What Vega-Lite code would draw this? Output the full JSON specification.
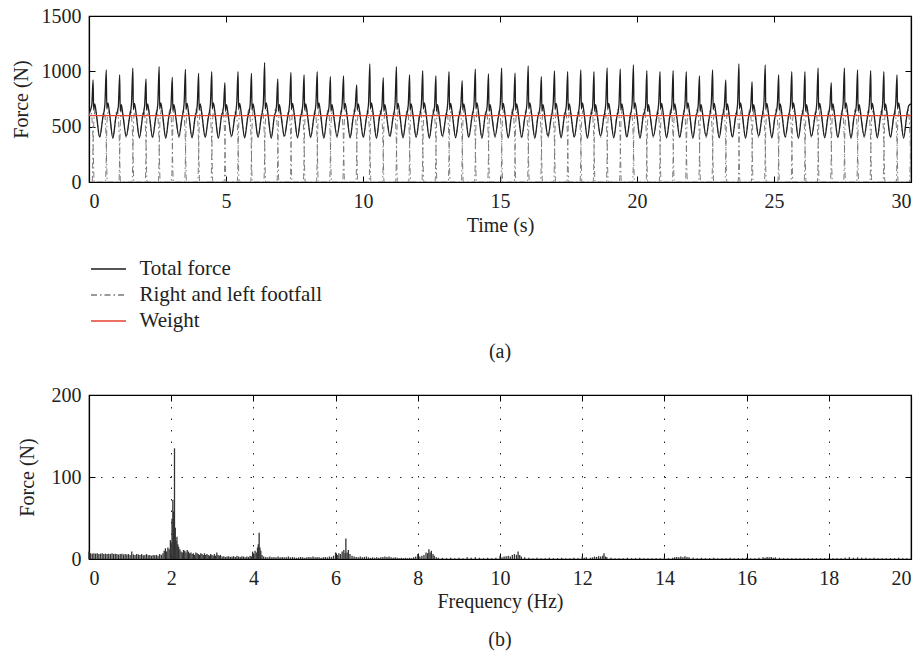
{
 "$schema": "https://vega.github.io/schema/vega-lite/v6.json",
 "background": "white",
 "padding": {"left": 10, "top": 5, "right": 8, "bottom": 0},
 "columns": 1,
 "align": "none",
 "spacing": 21,
 "config": {
  "font": "Liberation Serif",
  "view": {"stroke": "#000", "strokeWidth": 1.2},
  "axis": {"labelFont": "Liberation Serif", "titleFont": "Liberation Serif", "labelFontSize": 20, "titleFontSize": 20, "titleFontWeight": "normal", "labelColor": "#222", "titleColor": "#222", "domainColor": "#000", "domainWidth": 1.2, "tickColor": "#000", "tickWidth": 1, "tickSize": -6, "labelPadding": 15, "gridColor": "#000", "gridDash": [1.5, 10], "gridOpacity": 0.85, "gridWidth": 1, "format": "d"},
  "axisY": {"labelPadding": 14},
  "title": {"font": "Liberation Serif", "fontSize": 20, "fontWeight": "normal", "color": "#222"}
 },
 "datasets": {
  "total": [
   {"t":0,"F":620},
   {"t":0.1,"F":690},{"t":0.15,"F":922},{"t":0.17,"F":650},{"t":0.21,"F":705},{"t":0.28,"F":590},{"t":0.39,"F":405},{"t":0.5,"F":575},
   {"t":0.58,"F":700},{"t":0.63,"F":1012},{"t":0.65,"F":660},{"t":0.69,"F":715},{"t":0.76,"F":600},{"t":0.87,"F":395},{"t":0.98,"F":585},
   {"t":1.07,"F":680},{"t":1.12,"F":967},{"t":1.14,"F":640},{"t":1.18,"F":700},{"t":1.25,"F":580},{"t":1.36,"F":415},{"t":1.47,"F":570},
   {"t":1.55,"F":705},{"t":1.6,"F":1028},{"t":1.62,"F":655},{"t":1.66,"F":710},{"t":1.73,"F":595},{"t":1.84,"F":400},{"t":1.95,"F":580},
   {"t":2.03,"F":690},{"t":2.08,"F":931},{"t":2.1,"F":650},{"t":2.14,"F":705},{"t":2.21,"F":590},{"t":2.32,"F":405},{"t":2.43,"F":575},
   {"t":2.51,"F":700},{"t":2.56,"F":1042},{"t":2.58,"F":660},{"t":2.62,"F":715},{"t":2.69,"F":600},{"t":2.8,"F":395},{"t":2.91,"F":585},
   {"t":2.99,"F":680},{"t":3.04,"F":946},{"t":3.06,"F":640},{"t":3.1,"F":700},{"t":3.17,"F":580},{"t":3.28,"F":415},{"t":3.39,"F":570},
   {"t":3.47,"F":705},{"t":3.52,"F":1018},{"t":3.54,"F":655},{"t":3.58,"F":710},{"t":3.65,"F":595},{"t":3.76,"F":400},{"t":3.87,"F":580},
   {"t":3.95,"F":690},{"t":4,"F":982},{"t":4.02,"F":650},{"t":4.06,"F":705},{"t":4.13,"F":590},{"t":4.24,"F":405},{"t":4.35,"F":575},
   {"t":4.43,"F":700},{"t":4.48,"F":997},{"t":4.5,"F":660},{"t":4.54,"F":715},{"t":4.61,"F":600},{"t":4.72,"F":395},{"t":4.83,"F":585},
   {"t":4.91,"F":680},{"t":4.96,"F":898},{"t":4.98,"F":640},{"t":5.02,"F":700},{"t":5.09,"F":580},{"t":5.2,"F":415},{"t":5.31,"F":570},
   {"t":5.39,"F":705},{"t":5.44,"F":997},{"t":5.46,"F":655},{"t":5.5,"F":710},{"t":5.57,"F":595},{"t":5.68,"F":400},{"t":5.79,"F":580},
   {"t":5.88,"F":690},{"t":5.93,"F":982},{"t":5.95,"F":650},{"t":5.99,"F":705},{"t":6.06,"F":590},{"t":6.17,"F":405},{"t":6.28,"F":575},
   {"t":6.36,"F":700},{"t":6.41,"F":1079},{"t":6.43,"F":660},{"t":6.47,"F":715},{"t":6.54,"F":600},{"t":6.65,"F":395},{"t":6.76,"F":585},
   {"t":6.84,"F":680},{"t":6.89,"F":931},{"t":6.91,"F":640},{"t":6.95,"F":700},{"t":7.02,"F":580},{"t":7.13,"F":415},{"t":7.24,"F":570},
   {"t":7.32,"F":705},{"t":7.37,"F":990},{"t":7.39,"F":655},{"t":7.43,"F":710},{"t":7.5,"F":595},{"t":7.61,"F":400},{"t":7.72,"F":580},
   {"t":7.8,"F":690},{"t":7.85,"F":967},{"t":7.87,"F":650},{"t":7.91,"F":705},{"t":7.98,"F":590},{"t":8.09,"F":405},{"t":8.2,"F":575},
   {"t":8.28,"F":700},{"t":8.33,"F":997},{"t":8.35,"F":660},{"t":8.39,"F":715},{"t":8.46,"F":600},{"t":8.57,"F":395},{"t":8.68,"F":585},
   {"t":8.76,"F":680},{"t":8.81,"F":952},{"t":8.83,"F":640},{"t":8.87,"F":700},{"t":8.94,"F":580},{"t":9.05,"F":415},{"t":9.16,"F":570},
   {"t":9.24,"F":705},{"t":9.29,"F":958},{"t":9.31,"F":655},{"t":9.35,"F":710},{"t":9.42,"F":595},{"t":9.53,"F":400},{"t":9.64,"F":580},
   {"t":9.72,"F":690},{"t":9.77,"F":877},{"t":9.79,"F":650},{"t":9.83,"F":705},{"t":9.9,"F":590},{"t":10.01,"F":405},{"t":10.12,"F":575},
   {"t":10.2,"F":700},{"t":10.25,"F":1067},{"t":10.27,"F":660},{"t":10.31,"F":715},{"t":10.38,"F":600},{"t":10.49,"F":395},{"t":10.6,"F":585},
   {"t":10.69,"F":680},{"t":10.74,"F":943},{"t":10.76,"F":640},{"t":10.8,"F":700},{"t":10.87,"F":580},{"t":10.98,"F":415},{"t":11.09,"F":570},
   {"t":11.17,"F":705},{"t":11.22,"F":1042},{"t":11.24,"F":655},{"t":11.28,"F":710},{"t":11.35,"F":595},{"t":11.46,"F":400},{"t":11.57,"F":580},
   {"t":11.65,"F":690},{"t":11.7,"F":967},{"t":11.72,"F":650},{"t":11.76,"F":705},{"t":11.83,"F":590},{"t":11.94,"F":405},{"t":12.05,"F":575},
   {"t":12.13,"F":700},{"t":12.18,"F":1006},{"t":12.2,"F":660},{"t":12.24,"F":715},{"t":12.31,"F":600},{"t":12.42,"F":395},{"t":12.53,"F":585},
   {"t":12.61,"F":680},{"t":12.66,"F":958},{"t":12.68,"F":640},{"t":12.72,"F":700},{"t":12.79,"F":580},{"t":12.9,"F":415},{"t":13.01,"F":570},
   {"t":13.09,"F":705},{"t":13.14,"F":997},{"t":13.16,"F":655},{"t":13.2,"F":710},{"t":13.27,"F":595},{"t":13.38,"F":400},{"t":13.49,"F":580},
   {"t":13.57,"F":690},{"t":13.62,"F":916},{"t":13.64,"F":650},{"t":13.68,"F":705},{"t":13.75,"F":590},{"t":13.86,"F":405},{"t":13.97,"F":575},
   {"t":14.05,"F":700},{"t":14.1,"F":1019},{"t":14.12,"F":660},{"t":14.16,"F":715},{"t":14.23,"F":600},{"t":14.34,"F":395},{"t":14.45,"F":585},
   {"t":14.53,"F":680},{"t":14.58,"F":976},{"t":14.6,"F":640},{"t":14.64,"F":700},{"t":14.71,"F":580},{"t":14.82,"F":415},{"t":14.93,"F":570},
   {"t":15.01,"F":705},{"t":15.06,"F":1028},{"t":15.08,"F":655},{"t":15.12,"F":710},{"t":15.19,"F":595},{"t":15.3,"F":400},{"t":15.41,"F":580},
   {"t":15.5,"F":690},{"t":15.55,"F":983},{"t":15.57,"F":650},{"t":15.61,"F":705},{"t":15.68,"F":590},{"t":15.79,"F":405},{"t":15.9,"F":575},
   {"t":15.98,"F":700},{"t":16.03,"F":1049},{"t":16.05,"F":660},{"t":16.09,"F":715},{"t":16.16,"F":600},{"t":16.27,"F":395},{"t":16.38,"F":585},
   {"t":16.46,"F":680},{"t":16.51,"F":952},{"t":16.53,"F":640},{"t":16.57,"F":700},{"t":16.64,"F":580},{"t":16.75,"F":415},{"t":16.86,"F":570},
   {"t":16.94,"F":705},{"t":16.99,"F":1003},{"t":17.01,"F":655},{"t":17.05,"F":710},{"t":17.12,"F":595},{"t":17.23,"F":400},{"t":17.34,"F":580},
   {"t":17.42,"F":690},{"t":17.47,"F":997},{"t":17.49,"F":650},{"t":17.53,"F":705},{"t":17.6,"F":590},{"t":17.71,"F":405},{"t":17.82,"F":575},
   {"t":17.9,"F":700},{"t":17.95,"F":1012},{"t":17.97,"F":660},{"t":18.01,"F":715},{"t":18.08,"F":600},{"t":18.19,"F":395},{"t":18.3,"F":585},
   {"t":18.38,"F":680},{"t":18.43,"F":997},{"t":18.45,"F":640},{"t":18.49,"F":700},{"t":18.56,"F":580},{"t":18.67,"F":415},{"t":18.78,"F":570},
   {"t":18.86,"F":705},{"t":18.91,"F":1030},{"t":18.93,"F":655},{"t":18.97,"F":710},{"t":19.04,"F":595},{"t":19.15,"F":400},{"t":19.26,"F":580},
   {"t":19.34,"F":690},{"t":19.39,"F":1019},{"t":19.41,"F":650},{"t":19.45,"F":705},{"t":19.52,"F":590},{"t":19.63,"F":405},{"t":19.74,"F":575},
   {"t":19.82,"F":700},{"t":19.87,"F":1058},{"t":19.89,"F":660},{"t":19.93,"F":715},{"t":20,"F":600},{"t":20.11,"F":395},{"t":20.22,"F":585},
   {"t":20.31,"F":680},{"t":20.36,"F":1006},{"t":20.38,"F":640},{"t":20.42,"F":700},{"t":20.49,"F":580},{"t":20.6,"F":415},{"t":20.71,"F":570},
   {"t":20.79,"F":705},{"t":20.84,"F":997},{"t":20.86,"F":655},{"t":20.9,"F":710},{"t":20.97,"F":595},{"t":21.08,"F":400},{"t":21.19,"F":580},
   {"t":21.27,"F":690},{"t":21.32,"F":1006},{"t":21.34,"F":650},{"t":21.38,"F":705},{"t":21.45,"F":590},{"t":21.56,"F":405},{"t":21.67,"F":575},
   {"t":21.75,"F":700},{"t":21.8,"F":997},{"t":21.82,"F":660},{"t":21.86,"F":715},{"t":21.93,"F":600},{"t":22.04,"F":395},{"t":22.15,"F":585},
   {"t":22.23,"F":680},{"t":22.28,"F":958},{"t":22.3,"F":640},{"t":22.34,"F":700},{"t":22.41,"F":580},{"t":22.52,"F":415},{"t":22.63,"F":570},
   {"t":22.71,"F":705},{"t":22.76,"F":1012},{"t":22.78,"F":655},{"t":22.82,"F":710},{"t":22.89,"F":595},{"t":23,"F":400},{"t":23.11,"F":580},
   {"t":23.19,"F":690},{"t":23.24,"F":922},{"t":23.26,"F":650},{"t":23.3,"F":705},{"t":23.37,"F":590},{"t":23.48,"F":405},{"t":23.59,"F":575},
   {"t":23.67,"F":700},{"t":23.72,"F":1067},{"t":23.74,"F":660},{"t":23.78,"F":715},{"t":23.85,"F":600},{"t":23.96,"F":395},{"t":24.07,"F":585},
   {"t":24.15,"F":680},{"t":24.2,"F":907},{"t":24.22,"F":640},{"t":24.26,"F":700},{"t":24.33,"F":580},{"t":24.44,"F":415},{"t":24.55,"F":570},
   {"t":24.63,"F":705},{"t":24.68,"F":1058},{"t":24.7,"F":655},{"t":24.74,"F":710},{"t":24.81,"F":595},{"t":24.92,"F":400},{"t":25.03,"F":580},
   {"t":25.12,"F":690},{"t":25.17,"F":967},{"t":25.19,"F":650},{"t":25.23,"F":705},{"t":25.3,"F":590},{"t":25.41,"F":405},{"t":25.52,"F":575},
   {"t":25.6,"F":700},{"t":25.65,"F":997},{"t":25.67,"F":660},{"t":25.71,"F":715},{"t":25.78,"F":600},{"t":25.89,"F":395},{"t":26,"F":585},
   {"t":26.08,"F":680},{"t":26.13,"F":997},{"t":26.15,"F":640},{"t":26.19,"F":700},{"t":26.26,"F":580},{"t":26.37,"F":415},{"t":26.48,"F":570},
   {"t":26.56,"F":705},{"t":26.61,"F":1028},{"t":26.63,"F":655},{"t":26.67,"F":710},{"t":26.74,"F":595},{"t":26.85,"F":400},{"t":26.96,"F":580},
   {"t":27.04,"F":690},{"t":27.09,"F":898},{"t":27.11,"F":650},{"t":27.15,"F":705},{"t":27.22,"F":590},{"t":27.33,"F":405},{"t":27.44,"F":575},
   {"t":27.52,"F":700},{"t":27.57,"F":1028},{"t":27.59,"F":660},{"t":27.63,"F":715},{"t":27.7,"F":600},{"t":27.81,"F":395},{"t":27.92,"F":585},
   {"t":28,"F":680},{"t":28.05,"F":1012},{"t":28.07,"F":640},{"t":28.11,"F":700},{"t":28.18,"F":580},{"t":28.29,"F":415},{"t":28.4,"F":570},
   {"t":28.48,"F":705},{"t":28.53,"F":1006},{"t":28.55,"F":655},{"t":28.59,"F":710},{"t":28.66,"F":595},{"t":28.77,"F":400},{"t":28.88,"F":580},
   {"t":28.96,"F":690},{"t":29.01,"F":997},{"t":29.03,"F":650},{"t":29.07,"F":705},{"t":29.14,"F":590},{"t":29.25,"F":405},{"t":29.36,"F":575},
   {"t":29.44,"F":700},{"t":29.49,"F":967},{"t":29.51,"F":660},{"t":29.55,"F":715},{"t":29.62,"F":600},{"t":29.73,"F":395},{"t":29.84,"F":585},
   {"t":29.92,"F":690},{"t":30,"F":705}
  ],
  "foot": [
   {"f":"L","t":0,"F":600},{"f":"L","t":0.07,"F":650},{"f":"L","t":0.14,"F":420},{"f":"L","t":0.19,"F":0},
   {"f":"R","t":0.12,"F":0},{"f":"R","t":0.18,"F":560},{"f":"R","t":0.23,"F":660},{"f":"R","t":0.39,"F":400},{"f":"R","t":0.55,"F":650},{"f":"R","t":0.62,"F":420},{"f":"R","t":0.67,"F":0},
   {"f":"L","t":0.6,"F":0},{"f":"L","t":0.66,"F":550},{"f":"L","t":0.71,"F":650},{"f":"L","t":0.87,"F":410},{"f":"L","t":1.03,"F":660},{"f":"L","t":1.1,"F":430},{"f":"L","t":1.15,"F":0},
   {"f":"R","t":1.09,"F":0},{"f":"R","t":1.15,"F":560},{"f":"R","t":1.2,"F":660},{"f":"R","t":1.36,"F":400},{"f":"R","t":1.52,"F":650},{"f":"R","t":1.59,"F":420},{"f":"R","t":1.64,"F":0},
   {"f":"L","t":1.57,"F":0},{"f":"L","t":1.63,"F":550},{"f":"L","t":1.68,"F":650},{"f":"L","t":1.84,"F":410},{"f":"L","t":2,"F":660},{"f":"L","t":2.07,"F":430},{"f":"L","t":2.12,"F":0},
   {"f":"R","t":2.05,"F":0},{"f":"R","t":2.11,"F":560},{"f":"R","t":2.16,"F":660},{"f":"R","t":2.32,"F":400},{"f":"R","t":2.48,"F":650},{"f":"R","t":2.55,"F":420},{"f":"R","t":2.6,"F":0},
   {"f":"L","t":2.53,"F":0},{"f":"L","t":2.59,"F":550},{"f":"L","t":2.64,"F":650},{"f":"L","t":2.8,"F":410},{"f":"L","t":2.96,"F":660},{"f":"L","t":3.03,"F":430},{"f":"L","t":3.08,"F":0},
   {"f":"R","t":3.01,"F":0},{"f":"R","t":3.07,"F":560},{"f":"R","t":3.12,"F":660},{"f":"R","t":3.28,"F":400},{"f":"R","t":3.44,"F":650},{"f":"R","t":3.51,"F":420},{"f":"R","t":3.56,"F":0},
   {"f":"L","t":3.49,"F":0},{"f":"L","t":3.55,"F":550},{"f":"L","t":3.6,"F":650},{"f":"L","t":3.76,"F":410},{"f":"L","t":3.92,"F":660},{"f":"L","t":3.99,"F":430},{"f":"L","t":4.04,"F":0},
   {"f":"R","t":3.97,"F":0},{"f":"R","t":4.03,"F":560},{"f":"R","t":4.08,"F":660},{"f":"R","t":4.24,"F":400},{"f":"R","t":4.4,"F":650},{"f":"R","t":4.47,"F":420},{"f":"R","t":4.52,"F":0},
   {"f":"L","t":4.45,"F":0},{"f":"L","t":4.51,"F":550},{"f":"L","t":4.56,"F":650},{"f":"L","t":4.72,"F":410},{"f":"L","t":4.88,"F":660},{"f":"L","t":4.95,"F":430},{"f":"L","t":5,"F":0},
   {"f":"R","t":4.93,"F":0},{"f":"R","t":4.99,"F":560},{"f":"R","t":5.04,"F":660},{"f":"R","t":5.2,"F":400},{"f":"R","t":5.36,"F":650},{"f":"R","t":5.43,"F":420},{"f":"R","t":5.48,"F":0},
   {"f":"L","t":5.41,"F":0},{"f":"L","t":5.47,"F":550},{"f":"L","t":5.52,"F":650},{"f":"L","t":5.68,"F":410},{"f":"L","t":5.84,"F":660},{"f":"L","t":5.91,"F":430},{"f":"L","t":5.96,"F":0},
   {"f":"R","t":5.9,"F":0},{"f":"R","t":5.96,"F":560},{"f":"R","t":6.01,"F":660},{"f":"R","t":6.17,"F":400},{"f":"R","t":6.33,"F":650},{"f":"R","t":6.4,"F":420},{"f":"R","t":6.45,"F":0},
   {"f":"L","t":6.38,"F":0},{"f":"L","t":6.44,"F":550},{"f":"L","t":6.49,"F":650},{"f":"L","t":6.65,"F":410},{"f":"L","t":6.81,"F":660},{"f":"L","t":6.88,"F":430},{"f":"L","t":6.93,"F":0},
   {"f":"R","t":6.86,"F":0},{"f":"R","t":6.92,"F":560},{"f":"R","t":6.97,"F":660},{"f":"R","t":7.13,"F":400},{"f":"R","t":7.29,"F":650},{"f":"R","t":7.36,"F":420},{"f":"R","t":7.41,"F":0},
   {"f":"L","t":7.34,"F":0},{"f":"L","t":7.4,"F":550},{"f":"L","t":7.45,"F":650},{"f":"L","t":7.61,"F":410},{"f":"L","t":7.77,"F":660},{"f":"L","t":7.84,"F":430},{"f":"L","t":7.89,"F":0},
   {"f":"R","t":7.82,"F":0},{"f":"R","t":7.88,"F":560},{"f":"R","t":7.93,"F":660},{"f":"R","t":8.09,"F":400},{"f":"R","t":8.25,"F":650},{"f":"R","t":8.32,"F":420},{"f":"R","t":8.37,"F":0},
   {"f":"L","t":8.3,"F":0},{"f":"L","t":8.36,"F":550},{"f":"L","t":8.41,"F":650},{"f":"L","t":8.57,"F":410},{"f":"L","t":8.73,"F":660},{"f":"L","t":8.8,"F":430},{"f":"L","t":8.85,"F":0},
   {"f":"R","t":8.78,"F":0},{"f":"R","t":8.84,"F":560},{"f":"R","t":8.89,"F":660},{"f":"R","t":9.05,"F":400},{"f":"R","t":9.21,"F":650},{"f":"R","t":9.28,"F":420},{"f":"R","t":9.33,"F":0},
   {"f":"L","t":9.26,"F":0},{"f":"L","t":9.32,"F":550},{"f":"L","t":9.37,"F":650},{"f":"L","t":9.53,"F":410},{"f":"L","t":9.69,"F":660},{"f":"L","t":9.76,"F":430},{"f":"L","t":9.81,"F":0},
   {"f":"R","t":9.74,"F":0},{"f":"R","t":9.8,"F":560},{"f":"R","t":9.85,"F":660},{"f":"R","t":10.01,"F":400},{"f":"R","t":10.17,"F":650},{"f":"R","t":10.24,"F":420},{"f":"R","t":10.29,"F":0},
   {"f":"L","t":10.22,"F":0},{"f":"L","t":10.28,"F":550},{"f":"L","t":10.33,"F":650},{"f":"L","t":10.49,"F":410},{"f":"L","t":10.65,"F":660},{"f":"L","t":10.72,"F":430},{"f":"L","t":10.77,"F":0},
   {"f":"R","t":10.71,"F":0},{"f":"R","t":10.77,"F":560},{"f":"R","t":10.82,"F":660},{"f":"R","t":10.98,"F":400},{"f":"R","t":11.14,"F":650},{"f":"R","t":11.21,"F":420},{"f":"R","t":11.26,"F":0},
   {"f":"L","t":11.19,"F":0},{"f":"L","t":11.25,"F":550},{"f":"L","t":11.3,"F":650},{"f":"L","t":11.46,"F":410},{"f":"L","t":11.62,"F":660},{"f":"L","t":11.69,"F":430},{"f":"L","t":11.74,"F":0},
   {"f":"R","t":11.67,"F":0},{"f":"R","t":11.73,"F":560},{"f":"R","t":11.78,"F":660},{"f":"R","t":11.94,"F":400},{"f":"R","t":12.1,"F":650},{"f":"R","t":12.17,"F":420},{"f":"R","t":12.22,"F":0},
   {"f":"L","t":12.15,"F":0},{"f":"L","t":12.21,"F":550},{"f":"L","t":12.26,"F":650},{"f":"L","t":12.42,"F":410},{"f":"L","t":12.58,"F":660},{"f":"L","t":12.65,"F":430},{"f":"L","t":12.7,"F":0},
   {"f":"R","t":12.63,"F":0},{"f":"R","t":12.69,"F":560},{"f":"R","t":12.74,"F":660},{"f":"R","t":12.9,"F":400},{"f":"R","t":13.06,"F":650},{"f":"R","t":13.13,"F":420},{"f":"R","t":13.18,"F":0},
   {"f":"L","t":13.11,"F":0},{"f":"L","t":13.17,"F":550},{"f":"L","t":13.22,"F":650},{"f":"L","t":13.38,"F":410},{"f":"L","t":13.54,"F":660},{"f":"L","t":13.61,"F":430},{"f":"L","t":13.66,"F":0},
   {"f":"R","t":13.59,"F":0},{"f":"R","t":13.65,"F":560},{"f":"R","t":13.7,"F":660},{"f":"R","t":13.86,"F":400},{"f":"R","t":14.02,"F":650},{"f":"R","t":14.09,"F":420},{"f":"R","t":14.14,"F":0},
   {"f":"L","t":14.07,"F":0},{"f":"L","t":14.13,"F":550},{"f":"L","t":14.18,"F":650},{"f":"L","t":14.34,"F":410},{"f":"L","t":14.5,"F":660},{"f":"L","t":14.57,"F":430},{"f":"L","t":14.62,"F":0},
   {"f":"R","t":14.55,"F":0},{"f":"R","t":14.61,"F":560},{"f":"R","t":14.66,"F":660},{"f":"R","t":14.82,"F":400},{"f":"R","t":14.98,"F":650},{"f":"R","t":15.05,"F":420},{"f":"R","t":15.1,"F":0},
   {"f":"L","t":15.03,"F":0},{"f":"L","t":15.09,"F":550},{"f":"L","t":15.14,"F":650},{"f":"L","t":15.3,"F":410},{"f":"L","t":15.46,"F":660},{"f":"L","t":15.53,"F":430},{"f":"L","t":15.58,"F":0},
   {"f":"R","t":15.52,"F":0},{"f":"R","t":15.58,"F":560},{"f":"R","t":15.63,"F":660},{"f":"R","t":15.79,"F":400},{"f":"R","t":15.95,"F":650},{"f":"R","t":16.02,"F":420},{"f":"R","t":16.07,"F":0},
   {"f":"L","t":16,"F":0},{"f":"L","t":16.06,"F":550},{"f":"L","t":16.11,"F":650},{"f":"L","t":16.27,"F":410},{"f":"L","t":16.43,"F":660},{"f":"L","t":16.5,"F":430},{"f":"L","t":16.55,"F":0},
   {"f":"R","t":16.48,"F":0},{"f":"R","t":16.54,"F":560},{"f":"R","t":16.59,"F":660},{"f":"R","t":16.75,"F":400},{"f":"R","t":16.91,"F":650},{"f":"R","t":16.98,"F":420},{"f":"R","t":17.03,"F":0},
   {"f":"L","t":16.96,"F":0},{"f":"L","t":17.02,"F":550},{"f":"L","t":17.07,"F":650},{"f":"L","t":17.23,"F":410},{"f":"L","t":17.39,"F":660},{"f":"L","t":17.46,"F":430},{"f":"L","t":17.51,"F":0},
   {"f":"R","t":17.44,"F":0},{"f":"R","t":17.5,"F":560},{"f":"R","t":17.55,"F":660},{"f":"R","t":17.71,"F":400},{"f":"R","t":17.87,"F":650},{"f":"R","t":17.94,"F":420},{"f":"R","t":17.99,"F":0},
   {"f":"L","t":17.92,"F":0},{"f":"L","t":17.98,"F":550},{"f":"L","t":18.03,"F":650},{"f":"L","t":18.19,"F":410},{"f":"L","t":18.35,"F":660},{"f":"L","t":18.42,"F":430},{"f":"L","t":18.47,"F":0},
   {"f":"R","t":18.4,"F":0},{"f":"R","t":18.46,"F":560},{"f":"R","t":18.51,"F":660},{"f":"R","t":18.67,"F":400},{"f":"R","t":18.83,"F":650},{"f":"R","t":18.9,"F":420},{"f":"R","t":18.95,"F":0},
   {"f":"L","t":18.88,"F":0},{"f":"L","t":18.94,"F":550},{"f":"L","t":18.99,"F":650},{"f":"L","t":19.15,"F":410},{"f":"L","t":19.31,"F":660},{"f":"L","t":19.38,"F":430},{"f":"L","t":19.43,"F":0},
   {"f":"R","t":19.36,"F":0},{"f":"R","t":19.42,"F":560},{"f":"R","t":19.47,"F":660},{"f":"R","t":19.63,"F":400},{"f":"R","t":19.79,"F":650},{"f":"R","t":19.86,"F":420},{"f":"R","t":19.91,"F":0},
   {"f":"L","t":19.84,"F":0},{"f":"L","t":19.9,"F":550},{"f":"L","t":19.95,"F":650},{"f":"L","t":20.11,"F":410},{"f":"L","t":20.27,"F":660},{"f":"L","t":20.34,"F":430},{"f":"L","t":20.39,"F":0},
   {"f":"R","t":20.33,"F":0},{"f":"R","t":20.39,"F":560},{"f":"R","t":20.44,"F":660},{"f":"R","t":20.6,"F":400},{"f":"R","t":20.76,"F":650},{"f":"R","t":20.83,"F":420},{"f":"R","t":20.88,"F":0},
   {"f":"L","t":20.81,"F":0},{"f":"L","t":20.87,"F":550},{"f":"L","t":20.92,"F":650},{"f":"L","t":21.08,"F":410},{"f":"L","t":21.24,"F":660},{"f":"L","t":21.31,"F":430},{"f":"L","t":21.36,"F":0},
   {"f":"R","t":21.29,"F":0},{"f":"R","t":21.35,"F":560},{"f":"R","t":21.4,"F":660},{"f":"R","t":21.56,"F":400},{"f":"R","t":21.72,"F":650},{"f":"R","t":21.79,"F":420},{"f":"R","t":21.84,"F":0},
   {"f":"L","t":21.77,"F":0},{"f":"L","t":21.83,"F":550},{"f":"L","t":21.88,"F":650},{"f":"L","t":22.04,"F":410},{"f":"L","t":22.2,"F":660},{"f":"L","t":22.27,"F":430},{"f":"L","t":22.32,"F":0},
   {"f":"R","t":22.25,"F":0},{"f":"R","t":22.31,"F":560},{"f":"R","t":22.36,"F":660},{"f":"R","t":22.52,"F":400},{"f":"R","t":22.68,"F":650},{"f":"R","t":22.75,"F":420},{"f":"R","t":22.8,"F":0},
   {"f":"L","t":22.73,"F":0},{"f":"L","t":22.79,"F":550},{"f":"L","t":22.84,"F":650},{"f":"L","t":23,"F":410},{"f":"L","t":23.16,"F":660},{"f":"L","t":23.23,"F":430},{"f":"L","t":23.28,"F":0},
   {"f":"R","t":23.21,"F":0},{"f":"R","t":23.27,"F":560},{"f":"R","t":23.32,"F":660},{"f":"R","t":23.48,"F":400},{"f":"R","t":23.64,"F":650},{"f":"R","t":23.71,"F":420},{"f":"R","t":23.76,"F":0},
   {"f":"L","t":23.69,"F":0},{"f":"L","t":23.75,"F":550},{"f":"L","t":23.8,"F":650},{"f":"L","t":23.96,"F":410},{"f":"L","t":24.12,"F":660},{"f":"L","t":24.19,"F":430},{"f":"L","t":24.24,"F":0},
   {"f":"R","t":24.17,"F":0},{"f":"R","t":24.23,"F":560},{"f":"R","t":24.28,"F":660},{"f":"R","t":24.44,"F":400},{"f":"R","t":24.6,"F":650},{"f":"R","t":24.67,"F":420},{"f":"R","t":24.72,"F":0},
   {"f":"L","t":24.65,"F":0},{"f":"L","t":24.71,"F":550},{"f":"L","t":24.76,"F":650},{"f":"L","t":24.92,"F":410},{"f":"L","t":25.08,"F":660},{"f":"L","t":25.15,"F":430},{"f":"L","t":25.2,"F":0},
   {"f":"R","t":25.14,"F":0},{"f":"R","t":25.2,"F":560},{"f":"R","t":25.25,"F":660},{"f":"R","t":25.41,"F":400},{"f":"R","t":25.57,"F":650},{"f":"R","t":25.64,"F":420},{"f":"R","t":25.69,"F":0},
   {"f":"L","t":25.62,"F":0},{"f":"L","t":25.68,"F":550},{"f":"L","t":25.73,"F":650},{"f":"L","t":25.89,"F":410},{"f":"L","t":26.05,"F":660},{"f":"L","t":26.12,"F":430},{"f":"L","t":26.17,"F":0},
   {"f":"R","t":26.1,"F":0},{"f":"R","t":26.16,"F":560},{"f":"R","t":26.21,"F":660},{"f":"R","t":26.37,"F":400},{"f":"R","t":26.53,"F":650},{"f":"R","t":26.6,"F":420},{"f":"R","t":26.65,"F":0},
   {"f":"L","t":26.58,"F":0},{"f":"L","t":26.64,"F":550},{"f":"L","t":26.69,"F":650},{"f":"L","t":26.85,"F":410},{"f":"L","t":27.01,"F":660},{"f":"L","t":27.08,"F":430},{"f":"L","t":27.13,"F":0},
   {"f":"R","t":27.06,"F":0},{"f":"R","t":27.12,"F":560},{"f":"R","t":27.17,"F":660},{"f":"R","t":27.33,"F":400},{"f":"R","t":27.49,"F":650},{"f":"R","t":27.56,"F":420},{"f":"R","t":27.61,"F":0},
   {"f":"L","t":27.54,"F":0},{"f":"L","t":27.6,"F":550},{"f":"L","t":27.65,"F":650},{"f":"L","t":27.81,"F":410},{"f":"L","t":27.97,"F":660},{"f":"L","t":28.04,"F":430},{"f":"L","t":28.09,"F":0},
   {"f":"R","t":28.02,"F":0},{"f":"R","t":28.08,"F":560},{"f":"R","t":28.13,"F":660},{"f":"R","t":28.29,"F":400},{"f":"R","t":28.45,"F":650},{"f":"R","t":28.52,"F":420},{"f":"R","t":28.57,"F":0},
   {"f":"L","t":28.5,"F":0},{"f":"L","t":28.56,"F":550},{"f":"L","t":28.61,"F":650},{"f":"L","t":28.77,"F":410},{"f":"L","t":28.93,"F":660},{"f":"L","t":29,"F":430},{"f":"L","t":29.05,"F":0},
   {"f":"R","t":28.98,"F":0},{"f":"R","t":29.04,"F":560},{"f":"R","t":29.09,"F":660},{"f":"R","t":29.25,"F":400},{"f":"R","t":29.41,"F":650},{"f":"R","t":29.48,"F":420},{"f":"R","t":29.53,"F":0},
   {"f":"L","t":29.46,"F":0},{"f":"L","t":29.52,"F":550},{"f":"L","t":29.57,"F":650},{"f":"L","t":29.73,"F":410},{"f":"L","t":29.89,"F":660},{"f":"L","t":29.96,"F":430},{"f":"L","t":30.01,"F":0},
   {"f":"R","t":29.94,"F":0},{"f":"R","t":30,"F":560}
  ],
  "spec": [
   {"hz":0,"A":9},{"hz":0.04,"A":7},{"hz":0.08,"A":6.5},{"hz":0.12,"A":7},{"hz":0.16,"A":6.5},{"hz":0.2,"A":7},{"hz":0.24,"A":6},{"hz":0.28,"A":6.5},{"hz":0.32,"A":7},{"hz":0.36,"A":6},
   {"hz":0.4,"A":6.5},{"hz":0.44,"A":6},{"hz":0.48,"A":6.5},{"hz":0.52,"A":6},{"hz":0.56,"A":7},{"hz":0.6,"A":6},{"hz":0.64,"A":6.5},{"hz":0.68,"A":6},{"hz":0.72,"A":5.5},{"hz":0.76,"A":6},
   {"hz":0.8,"A":6.5},{"hz":0.84,"A":5.5},{"hz":0.88,"A":6},{"hz":0.92,"A":5.5},{"hz":0.96,"A":6},{"hz":1,"A":5},{"hz":1.04,"A":9},{"hz":1.08,"A":5.5},{"hz":1.12,"A":5},{"hz":1.16,"A":6},
   {"hz":1.2,"A":5.5},{"hz":1.24,"A":5},{"hz":1.28,"A":6},{"hz":1.32,"A":4.5},{"hz":1.36,"A":5},{"hz":1.4,"A":6},{"hz":1.44,"A":4.5},{"hz":1.48,"A":5},{"hz":1.52,"A":4},{"hz":1.56,"A":5},
   {"hz":1.6,"A":4.5},{"hz":1.64,"A":5},{"hz":1.68,"A":4},{"hz":1.72,"A":6},{"hz":1.76,"A":5},{"hz":1.8,"A":7},{"hz":1.83,"A":10},{"hz":1.86,"A":13},{"hz":1.89,"A":9},{"hz":1.92,"A":14},
   {"hz":1.95,"A":12},{"hz":1.98,"A":23},{"hz":2,"A":20},{"hz":2.02,"A":49},{"hz":2.04,"A":72},{"hz":2.06,"A":58},{"hz":2.08,"A":135},{"hz":2.1,"A":38},{"hz":2.12,"A":22},{"hz":2.14,"A":27},
   {"hz":2.16,"A":18},{"hz":2.18,"A":15},{"hz":2.21,"A":12},{"hz":2.24,"A":9},{"hz":2.27,"A":8},{"hz":2.3,"A":11},{"hz":2.33,"A":10},{"hz":2.36,"A":8},{"hz":2.39,"A":11},{"hz":2.42,"A":9},
   {"hz":2.45,"A":7},{"hz":2.48,"A":8},{"hz":2.51,"A":6},{"hz":2.54,"A":7},{"hz":2.57,"A":5},{"hz":2.6,"A":8},{"hz":2.63,"A":7},{"hz":2.66,"A":6},{"hz":2.69,"A":5},{"hz":2.72,"A":7},
   {"hz":2.75,"A":6},{"hz":2.78,"A":5},{"hz":2.81,"A":7},{"hz":2.84,"A":5},{"hz":2.87,"A":6},{"hz":2.9,"A":5},{"hz":2.93,"A":4},{"hz":2.96,"A":6},{"hz":2.99,"A":5},{"hz":3.02,"A":4},
   {"hz":3.05,"A":6},{"hz":3.08,"A":4},{"hz":3.11,"A":8},{"hz":3.14,"A":5},{"hz":3.17,"A":4},{"hz":3.2,"A":5},{"hz":3.24,"A":3},{"hz":3.28,"A":3.5},{"hz":3.32,"A":2.5},{"hz":3.36,"A":3},
   {"hz":3.4,"A":3.5},{"hz":3.44,"A":2.5},{"hz":3.48,"A":3},{"hz":3.52,"A":3.5},{"hz":3.56,"A":2.5},{"hz":3.6,"A":4},{"hz":3.64,"A":3},{"hz":3.68,"A":2.5},{"hz":3.72,"A":3.5},{"hz":3.76,"A":3},
   {"hz":3.8,"A":2},{"hz":3.84,"A":3},{"hz":3.88,"A":2.5},{"hz":3.92,"A":4},{"hz":3.95,"A":3},{"hz":3.98,"A":9},{"hz":4.01,"A":6},{"hz":4.04,"A":10},{"hz":4.07,"A":8},{"hz":4.1,"A":14},
   {"hz":4.12,"A":18},{"hz":4.14,"A":32},{"hz":4.16,"A":14},{"hz":4.18,"A":10},{"hz":4.21,"A":5},{"hz":4.25,"A":3},{"hz":4.3,"A":2.5},{"hz":4.35,"A":2},{"hz":4.4,"A":3},{"hz":4.45,"A":2},
   {"hz":4.5,"A":2.5},{"hz":4.55,"A":2},{"hz":4.6,"A":3},{"hz":4.65,"A":2},{"hz":4.7,"A":2.5},{"hz":4.75,"A":2},{"hz":4.8,"A":2},{"hz":4.85,"A":3},{"hz":4.9,"A":2},{"hz":4.95,"A":2.5},
   {"hz":5,"A":2},{"hz":5.05,"A":1.5},{"hz":5.1,"A":2},{"hz":5.15,"A":2.5},{"hz":5.2,"A":2},{"hz":5.25,"A":1.5},{"hz":5.3,"A":2},{"hz":5.35,"A":2.5},{"hz":5.4,"A":2},{"hz":5.45,"A":3},
   {"hz":5.5,"A":2},{"hz":5.55,"A":2.5},{"hz":5.6,"A":2},{"hz":5.65,"A":1.5},{"hz":5.7,"A":2},{"hz":5.75,"A":2.5},{"hz":5.8,"A":2},{"hz":5.85,"A":3},{"hz":5.9,"A":2.5},{"hz":5.95,"A":4},
   {"hz":6,"A":8},{"hz":6.04,"A":5},{"hz":6.08,"A":7},{"hz":6.12,"A":6},{"hz":6.16,"A":9},{"hz":6.2,"A":11},{"hz":6.23,"A":7},{"hz":6.25,"A":25},{"hz":6.28,"A":8},{"hz":6.31,"A":11},
   {"hz":6.35,"A":6},{"hz":6.4,"A":4},{"hz":6.45,"A":3},{"hz":6.5,"A":2.5},{"hz":6.55,"A":2},{"hz":6.6,"A":3},{"hz":6.65,"A":2},{"hz":6.7,"A":2.5},{"hz":6.75,"A":3},{"hz":6.8,"A":2},
   {"hz":6.85,"A":1.5},{"hz":6.9,"A":2},{"hz":6.95,"A":1.5},{"hz":7,"A":2},{"hz":7.05,"A":1.5},{"hz":7.1,"A":2},{"hz":7.15,"A":2.5},{"hz":7.2,"A":3},{"hz":7.25,"A":2.5},{"hz":7.3,"A":3},
   {"hz":7.35,"A":2},{"hz":7.4,"A":1.5},{"hz":7.45,"A":2},{"hz":7.5,"A":1.5},{"hz":7.55,"A":1},{"hz":7.6,"A":1.5},{"hz":7.65,"A":1},{"hz":7.7,"A":1.5},{"hz":7.75,"A":1},{"hz":7.8,"A":1.5},
   {"hz":7.85,"A":1},{"hz":7.9,"A":2},{"hz":7.95,"A":3},{"hz":8,"A":6},{"hz":8.05,"A":3},{"hz":8.1,"A":4},{"hz":8.15,"A":5},{"hz":8.2,"A":8},{"hz":8.24,"A":7},{"hz":8.27,"A":12},
   {"hz":8.3,"A":8},{"hz":8.33,"A":10},{"hz":8.37,"A":6},{"hz":8.4,"A":4},{"hz":8.45,"A":2},{"hz":8.5,"A":1.5},{"hz":8.6,"A":1.5},{"hz":8.7,"A":1},{"hz":8.8,"A":1.5},{"hz":8.9,"A":1},
   {"hz":9,"A":1.5},{"hz":9.1,"A":1},{"hz":9.2,"A":2},{"hz":9.3,"A":1.5},{"hz":9.4,"A":2},{"hz":9.5,"A":1.5},{"hz":9.6,"A":1},{"hz":9.7,"A":1.5},{"hz":9.8,"A":1},{"hz":9.9,"A":1.5},
   {"hz":10,"A":4},{"hz":10.05,"A":2},{"hz":10.1,"A":3},{"hz":10.15,"A":3.5},{"hz":10.2,"A":4},{"hz":10.25,"A":3},{"hz":10.3,"A":5},{"hz":10.35,"A":6},{"hz":10.4,"A":5},{"hz":10.44,"A":9},
   {"hz":10.48,"A":5},{"hz":10.52,"A":3},{"hz":10.6,"A":2},{"hz":10.7,"A":1.5},{"hz":10.8,"A":1},{"hz":10.9,"A":1.5},{"hz":11,"A":1},{"hz":11.1,"A":1},{"hz":11.2,"A":1.5},{"hz":11.3,"A":1},
   {"hz":11.4,"A":1},{"hz":11.5,"A":1.5},{"hz":11.6,"A":1},{"hz":11.7,"A":1},{"hz":11.8,"A":1.5},{"hz":11.9,"A":1},{"hz":12,"A":3},{"hz":12.05,"A":1.5},{"hz":12.1,"A":2},{"hz":12.2,"A":1.5},
   {"hz":12.25,"A":2},{"hz":12.3,"A":3},{"hz":12.35,"A":2.5},{"hz":12.4,"A":3.5},{"hz":12.45,"A":3},{"hz":12.5,"A":4},{"hz":12.53,"A":7},{"hz":12.57,"A":3},{"hz":12.6,"A":2},{"hz":12.7,"A":1.5},
   {"hz":12.8,"A":1},{"hz":12.9,"A":1},{"hz":13,"A":1},{"hz":13.1,"A":1.5},{"hz":13.2,"A":1},{"hz":13.3,"A":1},{"hz":13.4,"A":1.5},{"hz":13.5,"A":1},{"hz":13.6,"A":1},{"hz":13.7,"A":1},
   {"hz":13.8,"A":1},{"hz":13.9,"A":1},{"hz":14,"A":2},{"hz":14.1,"A":1},{"hz":14.2,"A":1.5},{"hz":14.25,"A":2},{"hz":14.3,"A":2.5},{"hz":14.35,"A":2},{"hz":14.4,"A":3},{"hz":14.45,"A":2},
   {"hz":14.5,"A":3.5},{"hz":14.55,"A":2.5},{"hz":14.6,"A":2},{"hz":14.7,"A":1.5},{"hz":14.8,"A":1},{"hz":14.9,"A":1.5},{"hz":15,"A":1},{"hz":15.1,"A":1},{"hz":15.2,"A":1.5},{"hz":15.3,"A":1},
   {"hz":15.4,"A":1},{"hz":15.5,"A":1},{"hz":15.6,"A":1.5},{"hz":15.7,"A":1},{"hz":15.8,"A":1},{"hz":15.9,"A":1},{"hz":16,"A":1.5},{"hz":16.1,"A":1},{"hz":16.2,"A":1},{"hz":16.3,"A":1.5},
   {"hz":16.4,"A":2},{"hz":16.45,"A":1.5},{"hz":16.5,"A":2.5},{"hz":16.55,"A":2},{"hz":16.6,"A":2.5},{"hz":16.65,"A":1.5},{"hz":16.7,"A":2},{"hz":16.8,"A":1.5},{"hz":16.9,"A":1},{"hz":17,"A":1},
   {"hz":17.1,"A":1},{"hz":17.2,"A":1},{"hz":17.3,"A":1},{"hz":17.4,"A":1},{"hz":17.5,"A":1},{"hz":17.6,"A":1},{"hz":17.7,"A":1},{"hz":17.8,"A":1},{"hz":17.9,"A":1},{"hz":18,"A":1},
   {"hz":18.1,"A":1},{"hz":18.2,"A":1},{"hz":18.3,"A":1},{"hz":18.4,"A":1.5},{"hz":18.5,"A":2},{"hz":18.6,"A":1.5},{"hz":18.7,"A":2},{"hz":18.8,"A":1.5},{"hz":18.9,"A":1.5},{"hz":19,"A":1},
   {"hz":19.1,"A":1.5},{"hz":19.2,"A":1},{"hz":19.3,"A":1},{"hz":19.4,"A":1},{"hz":19.5,"A":1},{"hz":19.6,"A":1},{"hz":19.7,"A":1.5},{"hz":19.8,"A":1},{"hz":19.9,"A":1},{"hz":20,"A":1}
  ]
 },
 "concat": [
  {
   "width": 822,
   "height": 166,
   "title": {"text": "(a)", "orient": "bottom", "anchor": "middle", "offset": 107},
   "resolve": {"axis": {"x": "independent", "y": "independent"}},
   "layer": [
    {
     "data": {"name": "foot"},
     "mark": {"type": "line", "interpolate": "monotone", "strokeWidth": 1, "strokeDash": [6, 3, 1.5, 3], "clip": true},
     "encoding": {
      "x": {"field": "t", "type": "quantitative", "scale": {"domain": [0, 30], "nice": false, "zero": false}, "axis": {"orient": "top", "labels": false, "grid": false, "title": null, "values": [0, 5, 10, 15, 20, 25, 30]}},
      "y": {"field": "F", "type": "quantitative", "scale": {"domain": [0, 1500], "nice": false}, "axis": {"orient": "right", "labels": false, "grid": false, "title": null, "values": [0, 500, 1000, 1500]}},
      "detail": {"field": "f"},
      "color": {"datum": "Right and left footfall"}
     }
    },
    {
     "data": {"name": "total"},
     "mark": {"type": "line", "interpolate": "monotone", "strokeWidth": 1.3, "clip": true},
     "encoding": {
      "x": {"field": "t", "type": "quantitative", "axis": {"title": "Time (s)", "values": [0, 5, 10, 15, 20, 25, 30], "titlePadding": 4}},
      "y": {"field": "F", "type": "quantitative", "axis": {"title": "Force (N)", "values": [0, 500, 1000, 1500], "titlePadding": 10}},
      "color": {
       "datum": "Total force",
       "scale": {"domain": ["Total force", "Right and left footfall", "Weight"], "range": ["#1e1e1e", "#7a7a7a", "#e8432e"]},
       "legend": {
        "title": null, "orient": "none", "legendX": 8.5, "legendY": 242, "direction": "vertical",
        "symbolType": "M-1.75,0H1.75", "symbolSize": 400, "symbolStrokeWidth": 1.3,
        "labelFont": "Liberation Serif", "labelFontSize": 21, "labelColor": "#222", "labelOffset": 20, "rowPadding": 5, "labelLimit": 500,
        "encode": {"symbols": {"update": {"strokeDash": {"signal": "datum.value === 'Right and left footfall' ? [6,3,1.5,3] : [1,0]"}}}}
       }
      }
     }
    },
    {
     "data": {"values": [{"F": 600}]},
     "mark": {"type": "rule", "strokeWidth": 1.3},
     "encoding": {
      "y": {"field": "F", "type": "quantitative", "axis": null},
      "color": {"datum": "Weight"}
     }
    }
   ]
  },
  {
   "width": 822,
   "height": 164,
   "title": {"text": "(b)", "orient": "bottom", "anchor": "middle", "offset": 19},
   "resolve": {"axis": {"x": "independent", "y": "independent"}},
   "layer": [
    {
     "data": {"name": "spec"},
     "mark": {"type": "rule", "color": "#333333", "strokeWidth": 1.3},
     "encoding": {
      "x": {"field": "hz", "type": "quantitative", "scale": {"domain": [0, 20], "nice": false}, "axis": {"title": "Frequency (Hz)", "values": [0, 2, 4, 6, 8, 10, 12, 14, 16, 18, 20], "titlePadding": 3}},
      "y": {"field": "A", "type": "quantitative", "scale": {"domain": [0, 200], "nice": false}, "axis": {"title": "Force (N)", "values": [0, 100, 200], "titlePadding": 14}},
      "y2": {"datum": 0}
     }
    },
    {
     "data": {"name": "spec"},
     "mark": {"type": "rule", "opacity": 0},
     "encoding": {
      "x": {"field": "hz", "type": "quantitative", "axis": {"orient": "top", "labels": false, "grid": false, "title": null, "values": [0, 2, 4, 6, 8, 10, 12, 14, 16, 18, 20]}},
      "y": {"field": "A", "type": "quantitative", "axis": {"orient": "right", "labels": false, "grid": false, "title": null, "values": [0, 100, 200]}},
      "y2": {"datum": 0}
     }
    }
   ]
  }
 ]
}
